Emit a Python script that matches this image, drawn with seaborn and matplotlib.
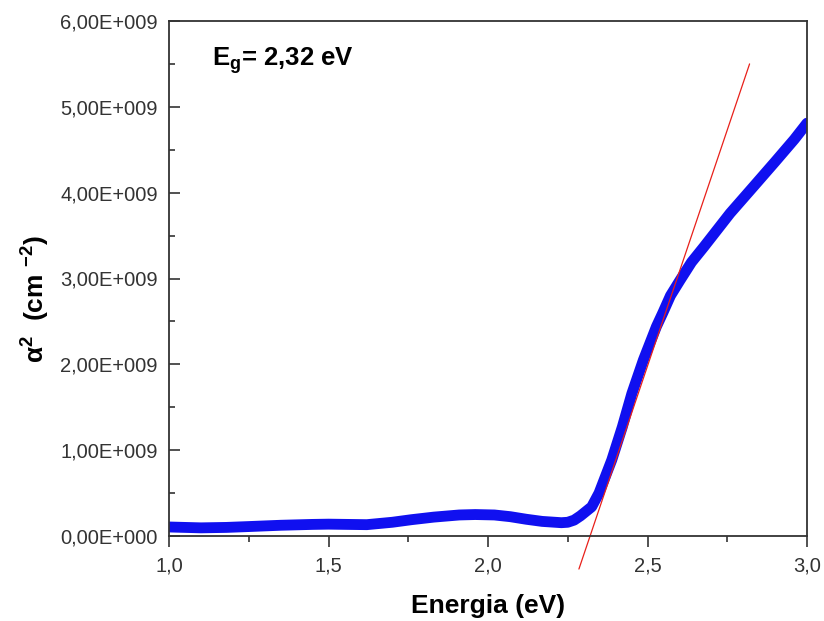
import matplotlib
matplotlib.use("Agg")
import matplotlib.pyplot as plt
from matplotlib.ticker import MultipleLocator, FuncFormatter
import numpy as np
import pandas as pd
import seaborn as sns

# Tauc plot: alpha^2 versus photon energy
energy = [1.00, 1.05, 1.10, 1.18, 1.25, 1.35, 1.45, 1.50, 1.56, 1.62, 1.70,
          1.76, 1.83, 1.91, 1.96, 2.02, 2.07, 2.12, 2.17, 2.23, 2.25, 2.27,
          2.29, 2.325, 2.348, 2.388, 2.421, 2.451, 2.487, 2.528, 2.548, 2.572,
          2.602, 2.638, 2.677, 2.759, 2.832, 2.90, 2.96, 3.00]
alpha_sq = [0.105, 0.10, 0.095, 0.10, 0.11, 0.125, 0.135, 0.138, 0.135, 0.132,
            0.16, 0.19, 0.22, 0.245, 0.25, 0.245, 0.225, 0.195, 0.17, 0.155,
            0.16, 0.185, 0.235, 0.34, 0.50, 0.886, 1.27, 1.66, 2.05, 2.44,
            2.60, 2.80, 2.98, 3.19, 3.37, 3.76, 4.07, 4.36, 4.62, 4.81]  # 1e9 cm^-2

# Linear extrapolation to the energy axis
band_gap = 2.32
fit_slope = 11.0          # 1e9 cm^-2 per eV
fit_range = [2.285, 2.82]

sns.set_theme(style="white")
plt.rcParams["font.family"] = ["Liberation Sans", "DejaVu Sans"]
plt.rcParams["mathtext.fontset"] = "custom"
plt.rcParams["mathtext.rm"] = "Liberation Sans"
plt.rcParams["mathtext.it"] = "Liberation Sans:italic"
plt.rcParams["mathtext.bf"] = "Liberation Sans:bold"

fig = plt.figure(figsize=(8.24, 6.21), dpi=100)
ax = fig.add_axes([169 / 824, 1 - 536 / 621, 638 / 824, 515 / 621])

df = pd.DataFrame({"E": energy, "a2": np.array(alpha_sq) * 1e9})
sns.lineplot(data=df, x="E", y="a2", ax=ax, color="#1010f0", lw=7.8,
             solid_capstyle="round", solid_joinstyle="round", sort=False)

fit_x = np.array(fit_range)
fit_y = fit_slope * (fit_x - band_gap) * 1e9
sns.lineplot(x=fit_x, y=fit_y, ax=ax, color="#e8201a", lw=0.9)
for ln in ax.lines[-1:]:
    ln.set_clip_on(False)

ax.set_xlim(1.0, 3.0)
ax.set_ylim(0, 6e9)

ax.xaxis.set_major_locator(MultipleLocator(0.5))
ax.xaxis.set_minor_locator(MultipleLocator(0.25))
ax.yaxis.set_major_locator(MultipleLocator(1e9))
ax.yaxis.set_minor_locator(MultipleLocator(0.5e9))

ax.xaxis.set_major_formatter(FuncFormatter(lambda v, p: f"{v:.1f}".replace(".", ",")))
def sci_fmt(v, p):
    if v == 0:
        return "0,00E+000"
    exp = int(np.floor(np.log10(abs(v))))
    mant = v / 10 ** exp
    return f"{mant:.2f}".replace(".", ",") + f"E+{exp:03d}"
ax.yaxis.set_major_formatter(FuncFormatter(sci_fmt))

ax.tick_params(axis="x", which="major", direction="out", length=7.7, width=1.2,
               colors="#333333", labelsize=14.5, pad=7, bottom=True)
ax.tick_params(axis="x", which="minor", direction="out", length=4.3, width=1.2,
               colors="#333333", bottom=True)
ax.tick_params(axis="y", which="major", direction="in", length=7.7, width=1.2,
               colors="#333333", labelsize=14.5, pad=8, left=True)
ax.tick_params(axis="y", which="minor", direction="in", length=4.3, width=1.2,
               colors="#333333", left=True)
for lab in ax.get_xticklabels() + ax.get_yticklabels():
    lab.set_color("#333333")

for sp in ax.spines.values():
    sp.set_visible(True)
    sp.set_color("#333333")
    sp.set_linewidth(1.3)

ax.set_xlabel("Energia (eV)", fontsize=19, fontweight="bold", color="black")
ax.xaxis.set_label_coords(0.5, -0.113)
ax.set_ylabel(r"$\mathbf{\alpha^{2}}$  (cm $^{\mathbf{-2}}$)", fontsize=19,
              fontweight="bold", color="black")
ax.yaxis.set_label_coords(-0.183, 0.46)

ax.text(0.068, 0.953, r"$\mathbf{E_{g}}$= 2,32 eV", transform=ax.transAxes,
        fontsize=18.5, fontweight="bold", va="top", ha="left", color="black")

fig.savefig("out.png", dpi=100, facecolor="white")
